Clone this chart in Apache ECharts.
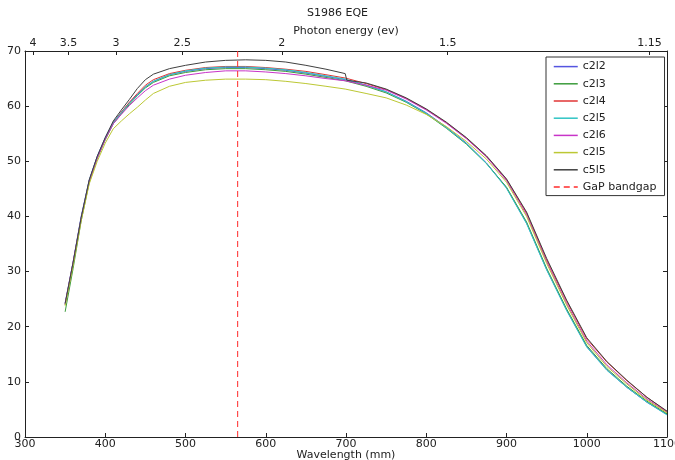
<!DOCTYPE html>
<html>
<head>
<meta charset="utf-8">
<script src="https://cdn.jsdelivr.net/npm/echarts@6/dist/echarts.min.js"></script>
<style>html,body{margin:0;padding:0;background:#fff}#c{width:675px;height:460px}</style>
</head>
<body>
<div id="c"></div>
<script>
const wavelengths = [350,360,370,380,390,400,410,420,430,440,450,460,480,500,525,550,575,600,625,650,675,699,701,725,750,775,800,825,850,875,900,925,950,975,1000,1025,1050,1075,1100];
const c2l2 = [24.3,31.8,40.0,46.6,50.9,54.3,57.1,58.9,60.6,62.1,63.5,64.5,65.7,66.3,66.8,67.0,67.0,66.8,66.5,66.0,65.4,64.8,64.7,63.8,62.6,60.9,58.8,56.2,53.3,49.7,45.2,38.8,30.4,23.0,16.4,12.2,9.0,6.3,4.1];
const c2l3 = [22.7,30.6,39.2,46.1,50.5,53.9,56.8,58.6,60.3,61.9,63.3,64.3,65.5,66.1,66.6,66.8,66.8,66.6,66.3,65.8,65.2,64.6,64.5,63.6,62.4,60.7,58.6,56.0,53.1,49.6,45.3,39.0,30.6,23.2,16.6,12.4,9.2,6.5,4.2];
const c2l4 = [24.0,31.5,39.6,46.4,50.7,54.1,57.0,58.9,60.7,62.3,63.8,64.8,65.9,66.5,67.0,67.2,67.2,67.0,66.7,66.3,65.7,65.1,65.0,64.1,63.0,61.4,59.4,57.0,54.2,50.9,46.7,40.6,32.1,24.6,17.8,13.6,10.2,7.2,4.6];
const c2l5 = [24.0,31.6,39.8,46.5,50.8,54.2,57.0,58.8,60.5,62.0,63.5,64.5,65.7,66.4,66.9,67.1,67.1,66.9,66.6,66.1,65.5,64.9,64.8,63.8,62.6,60.8,58.7,56.1,53.2,49.6,45.1,38.7,30.3,22.9,16.3,12.1,9.0,6.3,4.0];
const c2l6 = [24.1,31.7,39.7,46.3,50.6,54.0,56.8,58.5,60.1,61.5,62.8,63.8,64.9,65.6,66.1,66.4,66.4,66.2,65.9,65.5,65.0,64.6,64.5,63.8,62.9,61.3,59.3,56.9,54.1,50.8,46.5,40.3,31.8,24.2,17.4,13.1,9.8,6.9,4.5];
const c2l5b = [23.8,31.2,39.2,45.9,50.0,53.3,55.9,57.3,58.6,59.8,61.1,62.3,63.6,64.3,64.7,64.9,64.9,64.8,64.5,64.1,63.6,63.1,63.0,62.3,61.5,60.2,58.5,56.3,53.6,50.4,46.2,40.0,31.5,23.9,17.1,12.8,9.6,6.7,4.4];
const c5l5 = [24.2,31.7,39.8,46.6,50.9,54.3,57.3,59.3,61.2,63.2,64.8,65.8,66.8,67.4,68.0,68.3,68.4,68.3,68.0,67.4,66.7,65.9,64.7,64.2,63.1,61.5,59.5,57.1,54.3,51.0,46.8,40.8,32.4,24.8,18.0,13.7,10.3,7.2,4.7];
const bandgapWavelength = 565;
const yRange = [0, 70];
const photonEnergyTicks = [4, 3.5, 3, 2.5, 2, 1.5, 1.15];
const photonEnergyLabels = ['4','3.5','3','2.5','2','1.5','1.15'];

const seriesDefs = [
  {name:'c2l2', label:'c2l2', data:c2l2, color:'#5555e0'},
  {name:'c2l3', label:'c2l3', data:c2l3, color:'#3c9c3c'},
  {name:'c2l4', label:'c2l4', data:c2l4, color:'#e03434'},
  {name:'c2l5', label:'c2l5', data:c2l5, color:'#30c4c4'},
  {name:'c2l6', label:'c2l6', data:c2l6, color:'#c834c8'},
  {name:'c2l5b', label:'c2l5', data:c2l5b, color:'#bcc834'},
  {name:'c5l5', label:'c5l5', data:c5l5, color:'#404040'}
];
const labelMap = {};
seriesDefs.forEach(s => labelMap[s.name] = s.label);
labelMap['GaP bandgap'] = 'GaP bandgap';

const topPositions = photonEnergyTicks.map(e => 1240 / e);
const topLabelFor = v => {
  let best = 0, bd = 1e9;
  topPositions.forEach((p, i) => { const d = Math.abs(p - v); if (d < bd) { bd = d; best = i; } });
  return photonEnergyLabels[best];
};

const FONT = 'DejaVu Sans';
const txt = '#222';
const chart = echarts.init(document.getElementById('c'), null, {renderer:'canvas'});
const series = seriesDefs.map(s => ({
  name: s.name, type:'line', symbol:'none', showSymbol:false, animation:false,
  data: wavelengths.map((w, i) => [w, s.data[i]]),
  lineStyle:{width:1, color:s.color}, itemStyle:{color:s.color}
}));
series.push({
  name:'GaP bandgap', type:'line', symbol:'none', animation:false,
  data: [[bandgapWavelength, yRange[0]], [bandgapWavelength, yRange[1]]],
  lineStyle:{width:1, color:'#ff2a2a', type:[6,4]}, itemStyle:{color:'#ff2a2a'}
});

chart.setOption({
  animation:false,
  backgroundColor:'#fff',
  title:{text:'S1986 EQE', left:'center', top:3, textStyle:{fontFamily:FONT, fontSize:11, fontWeight:'normal', color:txt}},
  grid:{left:25, right:8, top:51, bottom:23, outerBoundsMode:'none', containLabel:false},
  legend:{
    orient:'vertical', left:546, top:57, itemWidth:24, itemHeight:14, itemGap:6,
    padding:[4,8,3,7], borderColor:'#333', borderWidth:1, backgroundColor:'#fff',
    textStyle:{fontFamily:FONT, fontSize:11, color:txt},
    itemStyle:{opacity:0, color:'transparent', borderWidth:0},
    lineStyle:{width:1.5},
    formatter: n => labelMap[n] || n,
    data: seriesDefs.map(s => s.name).concat(['GaP bandgap'])
  },
  xAxis:[
    {type:'value', position:'bottom', min:300, max:1100, interval:100,
     name:'Wavelength (mm)', nameLocation:'middle', nameGap:13, nameMoveOverlap:false,
     nameTextStyle:{fontFamily:FONT, fontSize:11, color:txt},
     axisLine:{show:true, onZero:false, lineStyle:{color:'#222', width:1}},
     axisTick:{show:true, inside:true, length:4, lineStyle:{color:'#222'}},
     axisLabel:{fontFamily:FONT, fontSize:11, color:txt, margin:2, formatter: v => String(v)},
     splitLine:{show:false}},
    {type:'value', position:'top', min:300, max:1100,
     name:'Photon energy (ev)', nameLocation:'middle', nameGap:14, nameMoveOverlap:false,
     nameTextStyle:{fontFamily:FONT, fontSize:11, color:txt},
     axisLine:{show:true, onZero:false, lineStyle:{color:'#222', width:1}},
     axisTick:{show:true, inside:true, length:4, customValues:topPositions, lineStyle:{color:'#222'}},
     axisLabel:{fontFamily:FONT, fontSize:11, color:txt, margin:2, customValues:topPositions, formatter: v => topLabelFor(v)},
     splitLine:{show:false}}
  ],
  yAxis:[
    {type:'value', position:'left', min:yRange[0], max:yRange[1], interval:10,
     axisLine:{show:true, onZero:false, lineStyle:{color:'#222', width:1}},
     axisTick:{show:true, inside:true, length:4, lineStyle:{color:'#222'}},
     axisLabel:{fontFamily:FONT, fontSize:11, color:txt, margin:4},
     splitLine:{show:false}},
    {type:'value', position:'right', min:yRange[0], max:yRange[1], interval:10,
     axisLine:{show:true, onZero:false, lineStyle:{color:'#222', width:1}},
     axisTick:{show:true, inside:true, length:4, lineStyle:{color:'#222'}},
     axisLabel:{show:false},
     splitLine:{show:false}}
  ],
  series: series
});
</script>
</body>
</html>
